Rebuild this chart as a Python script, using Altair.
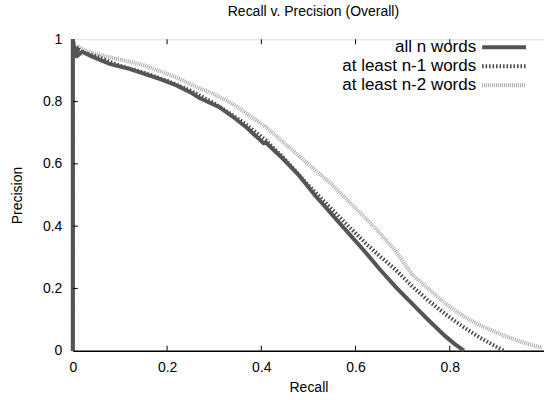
import altair as alt
import pandas as pd

# Recall / precision values
r_all = [0, 0, 0.004, 0.008, 0.012, 0.02, 0.04, 0.078, 0.12, 0.184, 0.22, 0.254, 0.268, 0.311, 0.339, 0.37,
         0.405, 0.41, 0.445, 0.48, 0.516, 0.53, 0.56, 0.586, 0.62, 0.65, 0.685, 0.72, 0.755, 0.791, 0.81, 0.83]
p_all = [0, 1.0, 0.94, 0.975, 0.95, 0.96, 0.945, 0.921, 0.905, 0.873, 0.852, 0.826, 0.812, 0.782, 0.752, 0.715,
         0.666, 0.668, 0.618, 0.563, 0.495, 0.472, 0.42, 0.376, 0.318, 0.264, 0.205, 0.151, 0.098, 0.046, 0.022, 0.0]

r_n1 = [0, 0, 0.005, 0.01, 0.02, 0.05, 0.1, 0.15, 0.2, 0.25, 0.3, 0.36, 0.41, 0.45, 0.487, 0.52, 0.551,
        0.585, 0.622, 0.65, 0.685, 0.72, 0.755, 0.791, 0.83, 0.862, 0.89, 0.915]
p_n1 = [0, 1.0, 0.955, 0.97, 0.958, 0.945, 0.915, 0.893, 0.867, 0.835, 0.795, 0.735, 0.675, 0.615, 0.552, 0.50, 0.452,
        0.40, 0.344, 0.306, 0.260, 0.207, 0.160, 0.117, 0.075, 0.044, 0.02, 0.0]

r_n2 = [0, 0, 0.005, 0.012, 0.025, 0.042, 0.1, 0.148, 0.219, 0.268, 0.297, 0.339, 0.41, 0.48, 0.551, 0.585,
        0.622, 0.65, 0.685, 0.72, 0.75, 0.791, 0.83, 0.862, 0.9, 0.932, 0.965, 0.996]
p_n2 = [0, 1.0, 0.96, 0.975, 0.965, 0.955, 0.935, 0.918, 0.878, 0.843, 0.826, 0.793, 0.718, 0.625, 0.532, 0.48,
        0.425, 0.38, 0.32, 0.245, 0.205, 0.151, 0.11, 0.083, 0.058, 0.039, 0.022, 0.01]

series_names = ["all n words", "at least n-1 words", "at least n-2 words"]
x_ticks = [0, 0.2, 0.4, 0.6, 0.8, 1.0]
y_ticks = [0, 0.2, 0.4, 0.6, 0.8, 1.0]
inner_ticks = [0.2, 0.4, 0.6, 0.8]

W, H = 472, 312
FONT = "Liberation Sans"

def frame(r, p, name):
    return pd.DataFrame({"recall": r, "precision": p, "idx": list(range(len(r))), "series": name})

d_all = frame(r_all, p_all, series_names[0])
d_n1 = frame(r_n1, p_n1, series_names[1])
d_n2 = frame(r_n2, p_n2, series_names[2])

xscale = alt.Scale(domain=[0, 1], nice=False, zero=False)
yscale = alt.Scale(domain=[0, 1], nice=False, zero=False)

xaxis = alt.Axis(values=x_ticks, labelExpr="datum.value == 1 ? '' : format(datum.value, '~g')", tickSize=0,
                 grid=False, domainColor="#000", domainWidth=1.5, labelFontSize=14, labelColor="#000",
                 labelPadding=10, title="Recall", titleFontSize=14, titleFontWeight="normal",
                 titleColor="#000", titlePadding=6, labelFont=FONT, titleFont=FONT, labelFlush=False)
yaxis = alt.Axis(values=y_ticks, format="~g", tickSize=0, grid=False, domainColor="#000", domainWidth=1.5,
                 labelFontSize=14, labelColor="#000", labelPadding=11, title="Precision", titleFontSize=14,
                 titleFontWeight="normal", titleColor="#000", titlePadding=18, labelFont=FONT, titleFont=FONT,
                 labelFlush=False)

def line(df, color, width, dash=None):
    kw = dict(color=color, strokeWidth=width, strokeJoin="miter", clip=False)
    if dash:
        kw["strokeDash"] = dash
    return alt.Chart(df).mark_line(**kw).encode(
        x=alt.X("recall:Q", scale=xscale, axis=xaxis),
        y=alt.Y("precision:Q", scale=yscale, axis=yaxis),
        order="idx:Q",
    )

l2 = line(d_n2, "#aaaaaa", 4, [1, 1])
l1 = line(d_n1, "#444444", 4, [1.5, 2])
l0 = line(d_all, "#555555", 4)

# inward tick marks
tick_df = pd.DataFrame({"recall": inner_ticks, "precision": inner_ticks})
bot_ticks = alt.Chart(tick_df).mark_rule(color="#000", strokeWidth=1).encode(
    x=alt.X("recall:Q", scale=xscale, axis=xaxis), y=alt.value(H), y2=alt.value(H - 5))
top_ticks = alt.Chart(tick_df).mark_rule(color="#000", strokeWidth=1).encode(
    x=alt.X("recall:Q", scale=xscale, axis=xaxis), y=alt.value(0), y2=alt.value(5))
left_ticks = alt.Chart(tick_df).mark_rule(color="#000", strokeWidth=1).encode(
    y=alt.Y("precision:Q", scale=yscale, axis=yaxis), x=alt.value(0), x2=alt.value(5))

# legend (manual, gnuplot style: label left of sample)
leg_y = [8, 27, 46]
def leg_row(i, color, dash=None):
    df = pd.DataFrame({"label": [series_names[i]]})
    t = alt.Chart(df).mark_text(align="right", baseline="middle", fontSize=17, font=FONT, color="#000").encode(
        text="label:N", x=alt.value(404), y=alt.value(leg_y[i]))
    kw = dict(color=color, strokeWidth=4)
    if dash:
        kw["strokeDash"] = dash
    r = alt.Chart(df).mark_rule(**kw).encode(x=alt.value(410), x2=alt.value(454), y=alt.value(leg_y[i]))
    return t + r

legend = leg_row(0, "#555555") + leg_row(1, "#444444", [1.5, 2]) + leg_row(2, "#aaaaaa", [1, 1])

chart = alt.layer(l2, l1, l0, bot_ticks, top_ticks, left_ticks, legend).properties(
    width=W, height=H,
    title=alt.TitleParams("Recall v. Precision (Overall)", fontSize=14, font=FONT, fontWeight="normal",
                          color="#000", offset=12, anchor="middle", dx=5),
    padding={"left": 73, "top": 39, "right": 0, "bottom": 49},
    autosize="none",
).configure_view(stroke="#000", strokeWidth=1.5).configure(font=FONT, background="white")

chart.save("out.html", embed_options={"renderer": "svg", "actions": False})
